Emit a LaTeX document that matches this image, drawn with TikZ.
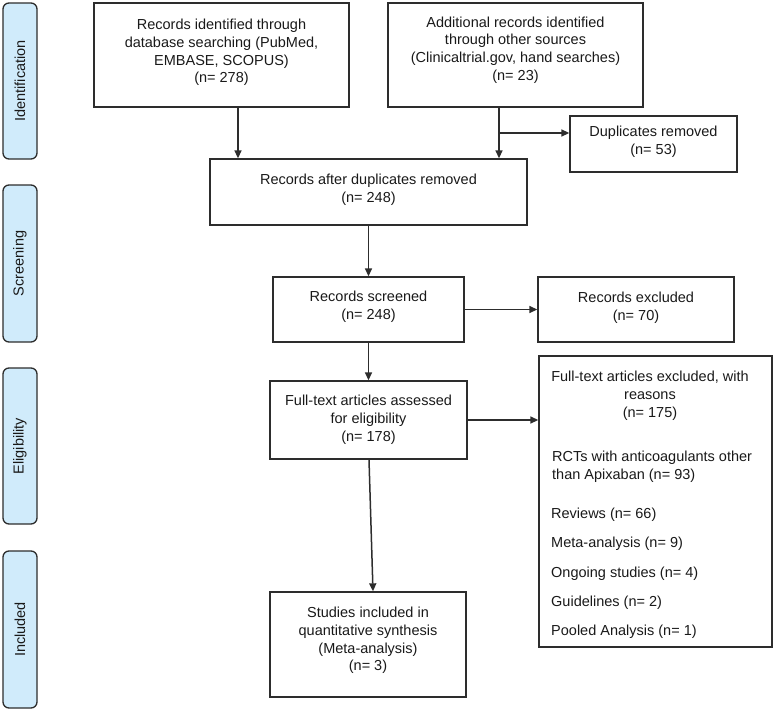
\documentclass[tikz,border=0pt]{standalone}
\usepackage{fontspec}
\setmainfont{Liberation Sans}
\usetikzlibrary{arrows.meta}
\definecolor{sidefill}{RGB}{208,235,251}
\definecolor{linec}{RGB}{45,45,45}
\definecolor{textc}{RGB}{25,25,25}
\begin{document}
\begin{tikzpicture}[x=1pt,y=-1pt,
  box/.style={draw=linec,line width=1.35pt,inner sep=0pt,minimum width=#1},
  txt/.style={align=center,inner sep=0pt,text=textc,font=\fontsize{14.5}{17.8}\selectfont},
  ltxt/.style={anchor=base west,inner sep=0pt,text=textc,font=\fontsize{14.5}{17.8}\selectfont},
  side/.style={draw=linec,line width=1.35pt,fill=sidefill,rounded corners=6pt,rotate=90,
    minimum height=34pt,inner sep=0pt,text=textc,font=\fontsize{14.5}{17.8}\selectfont},
  arr/.style={draw=linec,line width=1.5pt,-{Triangle[length=8pt,width=7pt]}}]
\useasboundingbox (0,0) rectangle (777,710);

% side labels
\node[side,minimum width=156pt] (sid) at (20,81) {Identification};
\node[side,minimum width=157pt] (ssc) at (20,263.5) {Screening};
\node[side,minimum width=156pt] (sel) at (20,446) {Eligibility};
\node[side,minimum width=157pt] (sin) at (20,629.5) {Included};

% boxes
\node[box=255pt,minimum height=104pt] (b1) at (221.5,55) {};
\node[txt] (b1t) at (221.5,52.5) {Records identified through\\database searching (PubMed,\\EMBASE, SCOPUS)\\(n= 278)};

\node[box=255pt,minimum height=104pt] (b2) at (515.5,55) {};
\node[txt] (b2t) at (515.5,50) {Additional records identified\\through other sources\\(Clinicaltrial.gov, hand searches)\\(n= 23)};

\node[box=167pt,minimum height=56pt] (dup) at (653.5,144) {};
\node[txt] (dupt) at (653.5,142) {Duplicates removed\\(n= 53)};

\node[box=317pt,minimum height=66pt] (ad) at (368.5,192) {};
\node[txt] (adt) at (368.5,190) {Records after duplicates removed\\(n= 248)};

\node[box=191pt,minimum height=65pt] (sc) at (368.5,309.5) {};
\node[txt] (sct) at (368.5,306.5) {Records screened\\(n= 248)};

\node[box=196pt,minimum height=65pt] (ex) at (636,309.5) {};
\node[txt] (ext) at (636,307.5) {Records excluded\\(n= 70)};

\node[box=197pt,minimum height=78pt] (ft) at (368.5,420) {};
\node[txt] (ftt) at (368.5,420) {Full-text articles assessed\\for eligibility\\(n= 178)};

\node[box=196pt,minimum height=105pt] (st) at (368,644.5) {};
\node[txt] (stt) at (368,640.5) {Studies included in\\quantitative synthesis\\(Meta-analysis)\\(n= 3)};

\node[box=233pt,minimum height=291pt] (rs) at (655.5,501.5) {};
\node[txt] (rs1) at (650,395.5) {Full-text articles excluded, with\\reasons\\(n= 175)};
\node[ltxt] (rs2) at (552,461) {RCTs with anticoagulants other};
\node[ltxt] (rs3) at (552,479) {than Apixaban (n= 93)};
\node[ltxt] (rs4) at (551,518) {Reviews (n= 66)};
\node[ltxt] (rs5) at (551,547) {Meta-analysis (n= 9)};
\node[ltxt] (rs6) at (551,577) {Ongoing studies (n= 4)};
\node[ltxt] (rs7) at (551,606) {Guidelines (n= 2)};
\node[ltxt] (rs8) at (551,635) {Pooled Analysis (n= 1)};

% connectors
\coordinate (c1) at (238,0);
\coordinate (c2) at (499,0);
\coordinate (br) at (499,133);
\draw[arr] (b1.south -| c1) -- (ad.north -| c1);
\draw[arr] (b2.south -| c2) -- (ad.north -| c2);
\draw[arr] (br) -- (dup.west |- br);
\draw[arr] (ad.south) -- (sc.north);
\draw[arr] (sc.east) -- (ex.west);
\draw[arr] (sc.south) -- (ft.north);
\draw[arr] (ft.east) -- (ft.east -| rs.west);
\draw[arr] ([xshift=0.5pt]ft.south) -- ([xshift=5pt]st.north);
\end{tikzpicture}
\end{document}
